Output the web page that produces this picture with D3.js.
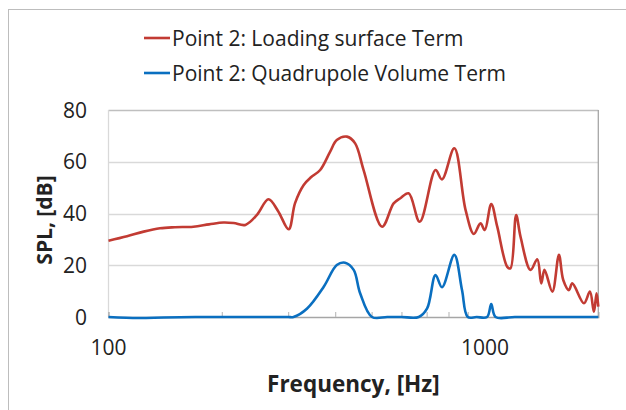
<!DOCTYPE html>
<html><head><meta charset="utf-8">
<script src="https://cdn.jsdelivr.net/npm/d3@7"></script>
<style>body{margin:0;background:#fff}svg{display:block}text{font-family:"Open Sans",sans-serif;fill:#222}</style>
</head><body><svg id="c" width="626" height="410"></svg>
<script>
const loadingFreq = [100,112,124,137,150,168,185,202,215,231,248,266,282,301,313,330,345,365,388,404,430,452,476,533,572,596,627,671,739,769,829,888,934,973,999,1039,1078,1146,1169,1210,1243,1321,1377,1411,1439,1510,1572,1614,1671,1706,1832,1900,1947,1979,2000];
const loadingSPL  = [29.5,31.2,33,34.3,34.7,34.9,35.8,36.5,36.3,35.6,39.5,45.5,41,33.9,44,51,54,56.8,63.9,68.4,69.7,67.1,56.8,34.9,43.9,45.9,47.8,36.8,56.8,53.2,65.2,41.4,32.1,36.2,33.6,43.7,34.9,19.4,18.8,39.4,31,18.2,22.3,13,18.2,9.8,24,14.3,10.4,13,5.3,9.8,2,9.2,4];
const quadFreq = [100,120,140,170,200,250,300,310,337,373,404,425,448,466,501,550,600,667,702,739,769,829,869,900,950,1013,1039,1067,1200,1500,2000];
const quadSPL  = [0,-0.4,-0.2,0,0,0,0,0,3.3,11.7,20.1,21,18.2,9.2,0,0,0,0,3.3,16.2,11.5,24,10.4,0,0,0,5,0,0,0,0];
const yTicks = [0,20,40,60,80];
const xLabels = [100,1000];
const xMinor = [200,300,400,500,600,700,800,900];
const seriesNames = ["Point 2: Loading surface Term","Point 2: Quadrupole Volume Term"];
const seriesColors = ["#c23b33","#0a6fc0"];

const svg = d3.select("#c");
const L=108.5, R=598.3, T=110, B=317;
const x = d3.scaleLog().domain([100,2000]).range([L,R]);
const y = d3.scaleLinear().domain([0,80]).range([B,T]);

svg.append("rect").attr("x",8.5).attr("y",9.5).attr("width",640).attr("height",420)
  .attr("fill","none").attr("stroke","#bdbdbd").attr("stroke-width",1);

svg.append("g").selectAll("line").data(yTicks.filter(d=>d>0)).join("line")
  .attr("x1",L).attr("x2",R).attr("y1",d=>Math.round(y(d))+0.5).attr("y2",d=>Math.round(y(d))+0.5)
  .attr("stroke",d=>d===80?"#bfbfbf":"#d9d9d9").attr("stroke-width",1.3);
svg.append("line").attr("x1",L).attr("x2",L).attr("y1",T).attr("y2",B).attr("stroke","#d9d9d9").attr("stroke-width",1.3);
svg.append("line").attr("x1",R).attr("x2",R).attr("y1",T).attr("y2",B).attr("stroke","#a6a6a6").attr("stroke-width",1.3);
const xAxis = d3.axisBottom(x).tickValues(xMinor).tickSize(-5).tickFormat("");
const gx = svg.append("g").attr("transform",`translate(0,${B})`).call(xAxis);
gx.select(".domain").attr("stroke","#a6a6a6").attr("stroke-width",1.3);
gx.selectAll(".tick line").attr("stroke","#bfbfbf").attr("stroke-width",1.2);
svg.append("g").selectAll("text").data(xLabels).join("text")
  .attr("x",d=>x(d)).attr("y",355).attr("text-anchor","middle").attr("font-size",21).text(d=>d);
svg.append("g").selectAll("text").data(yTicks).join("text")
  .attr("x",87).attr("y",d=>y(d)+7.5).attr("text-anchor","end").attr("font-size",21).text(d=>d);

svg.append("text").attr("x",(L+R)/2).attr("y",392).attr("text-anchor","middle")
  .attr("font-size",22.5).attr("font-weight","bold").text("Frequency, [Hz]");
svg.append("text").attr("transform","translate(52,220) rotate(-90)").attr("text-anchor","middle")
  .attr("font-size",21).attr("font-weight","bold").text("SPL, [dB]");

const line = d3.line().x(d=>x(d[0])).y(d=>y(d[1])).curve(d3.curveCatmullRom.alpha(0.5));
const series = [d3.zip(loadingFreq,loadingSPL), d3.zip(quadFreq,quadSPL)];
series.forEach((s,i)=>{
  svg.append("path").datum(s).attr("d",line).attr("fill","none")
    .attr("stroke",seriesColors[i]).attr("stroke-width",2.6).attr("stroke-linejoin","round");
});

const lg = svg.append("g").selectAll("g").data(seriesNames).join("g")
  .attr("transform",(d,i)=>`translate(144,${38+i*35})`);
lg.append("line").attr("x1",0).attr("x2",26).attr("y1",0).attr("y2",0)
  .attr("stroke",(d,i)=>seriesColors[i]).attr("stroke-width",2.6);
lg.append("text").attr("x",28).attr("y",7.5).attr("font-size",21).text(d=>d);
</script></body></html>
